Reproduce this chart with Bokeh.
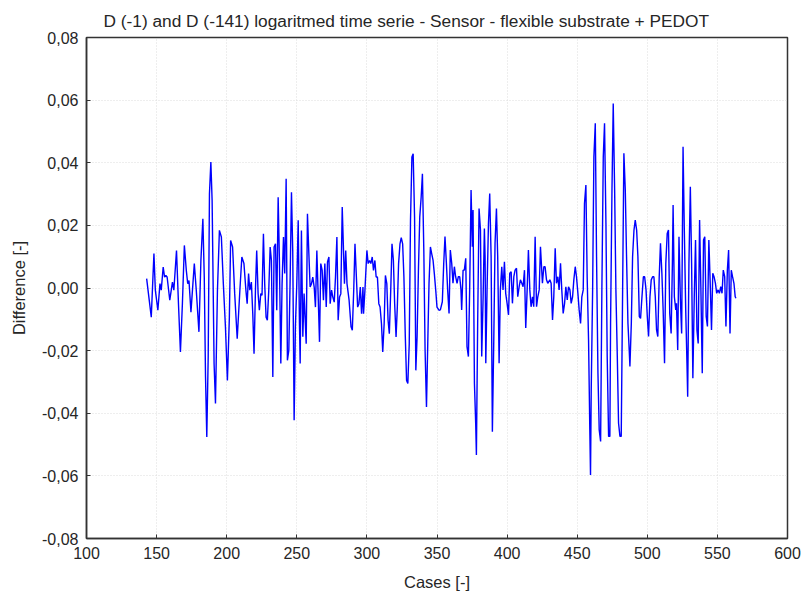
from bokeh.plotting import figure
from bokeh.models import Range1d, FixedTicker, CustomJSTickFormatter, Title
from bokeh.embed import file_html
from bokeh.resources import INLINE

title_text = "D (-1) and D (-141) logaritmed time serie - Sensor - flexible substrate + PEDOT"
x_label = "Cases [-]"
y_label = "Difference [-]"
x_ticks = [100, 150, 200, 250, 300, 350, 400, 450, 500, 550, 600]
y_ticks = [-0.08, -0.06, -0.04, -0.02, 0.0, 0.02, 0.04, 0.06, 0.08]

cases = [
    142.9, 146.2, 148.1, 149.1, 150.9, 152.4, 153.3, 154.7, 155.7, 156.6, 157.5, 159.4, 161.3, 162.3,
    164.2, 165.6, 167.0, 168.4, 169.8, 171.2, 172.2, 173.1, 174.5, 175.9, 176.9, 178.3, 180.2, 181.6,
    183.0, 184.0, 184.9, 185.8, 186.8, 187.7, 188.7, 189.6, 191.0, 192.0, 193.4, 194.8, 196.2, 197.6,
    199.1, 200.5, 201.9, 202.8, 204.2, 205.7, 207.5, 209.4, 210.8, 212.3, 213.7, 214.6, 215.6, 216.5,
    217.6, 218.6, 219.5, 220.5, 221.4, 222.4, 223.3, 224.3, 225.2, 226.2, 227.1, 228.1, 229.0, 230.0,
    231.0, 231.9, 232.9, 233.8, 234.8, 235.7, 236.7, 237.6, 238.6, 239.5, 240.5, 241.4, 242.4, 243.3,
    244.3, 245.2, 246.2, 247.1, 248.1, 249.0, 250.0, 251.0, 251.9, 252.4, 253.3, 254.3, 255.2, 256.7,
    257.6, 258.6, 259.5, 260.5, 261.4, 262.4, 263.3, 264.3, 265.2, 266.2, 267.1, 268.1, 269.0, 270.0,
    271.0, 271.9, 272.9, 273.8, 274.8, 275.7, 276.7, 277.6, 278.6, 279.5, 280.5, 281.4, 282.4,
    284.0, 284.9, 285.8, 287.3, 288.7, 289.6, 290.6, 291.5, 292.5, 293.4, 294.3, 295.3, 296.2, 297.2,
    297.6, 298.6, 300.0, 300.9, 301.9, 302.8, 303.8, 304.7, 305.7, 306.6, 307.5, 308.5, 309.4, 310.4,
    311.3, 312.3, 313.2, 314.2, 315.1, 316.0, 317.0, 317.9, 318.9, 319.8, 320.8, 321.7, 322.6, 323.6,
    324.5, 325.5, 326.4, 327.4, 328.3, 329.2, 330.2, 331.1, 332.1, 333.0, 334.0, 334.9, 335.8, 336.8,
    337.7, 338.7, 339.6, 340.6, 341.5, 342.5, 343.4, 344.3, 345.3, 346.2, 347.2, 348.1, 349.1, 350.0,
    351.4,
    352.4, 353.8, 354.8, 355.7, 356.7, 357.6, 358.6, 359.5, 360.5, 361.4, 362.4, 363.3, 364.3, 365.2,
    366.2, 367.1, 367.6, 368.6, 369.5, 370.5, 371.4, 372.4, 373.3, 374.3, 375.2, 375.7, 376.7, 377.6,
    378.1, 379.0, 380.0, 381.0, 381.9, 382.9, 383.8, 384.3, 384.8, 385.7, 386.7, 387.6, 388.6, 389.5,
    390.5, 391.4, 392.4, 393.3, 394.3, 395.2, 396.2, 397.1, 398.1, 399.0, 400.0, 401.0, 401.9, 402.9,
    403.8, 404.8, 405.7, 406.7, 407.6, 408.6, 409.5, 410.5, 411.4, 412.4, 413.3, 414.3, 415.2, 416.2,
    417.1, 418.1, 419.0, 420.0, 421.0, 421.9, 422.9, 423.8,
    425.2, 426.2, 427.1, 428.1, 429.0, 430.5, 431.4, 432.4, 433.3, 434.3, 435.2, 436.2, 437.1, 438.1,
    439.0, 440.0, 441.0, 441.9, 442.9, 443.8, 444.8, 445.7, 446.7, 447.6, 448.6, 449.5, 450.5, 451.4,
    452.4, 453.3, 454.3, 455.2, 456.2, 457.1, 458.1, 459.0, 459.5, 460.0, 461.0, 461.9, 462.9, 463.8,
    464.8, 465.7, 466.7, 467.6, 468.6, 469.5, 470.5, 471.4, 472.4, 473.3, 473.8, 474.8, 475.7, 476.7,
    477.6, 478.6, 479.5, 480.5, 481.4, 482.4, 483.3, 484.3, 485.2, 486.2, 487.1, 487.6, 488.6, 489.5,
    490.5, 491.4, 492.4, 493.3, 494.3, 495.2,
    496.2, 497.2, 498.1, 499.1, 500.0, 500.9, 501.9, 502.8, 503.8, 504.7, 505.7, 506.6, 507.5, 508.5,
    509.4, 510.4, 511.3, 512.3, 513.2, 514.2, 515.1, 516.0, 517.0, 517.9, 518.4, 519.3, 520.3, 520.8,
    521.7, 522.6, 523.6, 524.5, 525.5, 526.4, 527.4, 528.3, 528.8, 529.7, 530.7, 531.6, 532.5, 533.5,
    534.4, 535.4, 536.3, 537.3, 538.2, 539.2, 540.1, 541.0, 542.0, 542.9, 543.9, 544.8, 545.8, 546.7,
    547.6, 548.6, 549.5, 550.5, 551.4, 552.4, 553.3, 554.2, 555.2, 556.1, 557.1, 558.0, 559.0, 559.9,
    560.8, 561.8, 562.7, 563.2,
]

difference = [
    0.0030, -0.0093, 0.0110, -0.0007, -0.0071, 0.0014, -0.0007, 0.0067, 0.0035, 0.0040, 0.0035, -0.0039, 0.0019, -0.0007,
    0.0120, -0.0050, -0.0204, -0.0050, 0.0136, 0.0056, 0.0014, 0.0024, -0.0077, 0.0014, 0.0078, -0.0007, -0.0140, 0.0088,
    0.0221, 0.0035, -0.0284, -0.0476, -0.0220, 0.0301, 0.0402, 0.0280, -0.0241, -0.0369, -0.0007, 0.0184, 0.0163, 0.0014,
    -0.0124, -0.0295, -0.0093, 0.0152, 0.0131, -0.0018, -0.0162, -0.0007, 0.0099, 0.0078, -0.0007, -0.0050, 0.0046, -0.0007,
    0.0019, -0.0082, -0.0210, -0.0007, 0.0120, -0.0018, -0.0071, -0.0018, -0.0023, 0.0173, 0.0014, -0.0093, -0.0103, -0.0007,
    0.0131, 0.0088, -0.0284, 0.0131, 0.0141, -0.0071, 0.0290, 0.0088, -0.0241, 0.0014, 0.0163, 0.0046, 0.0349, -0.0231,
    -0.0199, 0.0014, 0.0306, 0.0120, -0.0422, -0.0124, 0.0014, 0.0216, -0.0114, -0.0241, 0.0184, -0.0156, -0.0018, -0.0178,
    0.0237, 0.0110, 0.0003, 0.0014, 0.0035, 0.0003, -0.0061, 0.0120, -0.0018, -0.0172, 0.0078, 0.0056, -0.0039, 0.0078,
    -0.0061, 0.0083, 0.0099, -0.0050, -0.0007, -0.0029, -0.0045, 0.0035, 0.0163, -0.0103, -0.0029, -0.0018, 0.0259,
    0.0014, 0.0120, 0.0014, -0.0039, -0.0124, -0.0135, -0.0007, 0.0141, 0.0035, -0.0061, -0.0050, 0.0003, -0.0082, 0.0003,
    -0.0082, -0.0007, 0.0120, 0.0078, 0.0088, 0.0078, 0.0099, 0.0056, 0.0088, 0.0035, 0.0035, -0.0050, -0.0061, -0.0114,
    -0.0204, -0.0114, 0.0040, 0.0014, -0.0103, -0.0146, -0.0007, 0.0141, 0.0088, -0.0050, -0.0156, -0.0061, 0.0078, 0.0141,
    0.0161, 0.0141, 0.0035, -0.0156, -0.0295, -0.0305, -0.0178, 0.0216, 0.0418, 0.0429, 0.0227, -0.0263, -0.0156, 0.0067,
    0.0227, 0.0290, 0.0365, 0.0120, -0.0199, -0.0380, -0.0178, 0.0014, 0.0131, 0.0110, 0.0088, 0.0046, -0.0007, -0.0061,
    -0.0071,
    -0.0070, -0.0044, 0.0079, 0.0164, 0.0079, -0.0006, -0.0081, 0.0121, 0.0079, 0.0015, 0.0068, 0.0036, 0.0015, 0.0036,
    0.0036, -0.0006, -0.0070, 0.0057, 0.0057, 0.0095, -0.0187, -0.0219, -0.0006, 0.0313, 0.0132, 0.0249, -0.0304, -0.0432,
    -0.0533, -0.0113, 0.0254, 0.0185, -0.0219, -0.0028, 0.0190, 0.0100, -0.0240, -0.0006, 0.0206, 0.0302, 0.0100, -0.0459,
    -0.0166, 0.0143, 0.0254, 0.0100, -0.0240, -0.0006, 0.0068, -0.0006, 0.0084, -0.0017, -0.0049, -0.0086, 0.0047, 0.0052,
    -0.0049, 0.0036, 0.0057, 0.0063, -0.0028, 0.0004, 0.0026, 0.0015, 0.0004, 0.0057, -0.0128, -0.0006, 0.0121, -0.0006,
    -0.0060, -0.0028, -0.0060, 0.0164, -0.0060, -0.0028, -0.0006, 0.0132,
    0.0015, 0.0068, 0.0068, 0.0026, 0.0015, 0.0026, 0.0015, -0.0102, -0.0028, 0.0127, 0.0015, 0.0036, -0.0006, 0.0079,
    -0.0006, -0.0081, -0.0049, 0.0004, -0.0038, 0.0004, -0.0006, -0.0049, -0.0028, 0.0026, 0.0068, 0.0036, -0.0017, -0.0070,
    -0.0113, -0.0028, -0.0006, 0.0270, 0.0329, 0.0036, -0.0166, -0.0453, -0.0597, -0.0326, -0.0006, 0.0419, 0.0526, 0.0100,
    -0.0272, -0.0453, -0.0490, -0.0006, 0.0419, 0.0526, 0.0206, -0.0219, -0.0474, -0.0474, -0.0113, 0.0313, 0.0589, 0.0313,
    -0.0006, -0.0219, -0.0432, -0.0474, -0.0474, -0.0006, 0.0430, 0.0313, 0.0100, -0.0113, -0.0198, -0.0251, -0.0113, 0.0100,
    0.0185, 0.0217, 0.0185, 0.0100, -0.0091, -0.0097,
    -0.0028, 0.0036, 0.0036, -0.0006, -0.0091, -0.0155, -0.0028, 0.0026, 0.0036, 0.0036, -0.0028, -0.0134, -0.0155, 0.0036,
    0.0143, 0.0047, -0.0070, -0.0240, 0.0079, 0.0174, 0.0185, -0.0081, -0.0145, 0.0079, 0.0265, -0.0028, -0.0070, -0.0049,
    -0.0198, 0.0164, -0.0038, -0.0145, 0.0451, 0.0185, -0.0070, -0.0240, -0.0347, 0.0079, 0.0323, 0.0079, -0.0288, -0.0028,
    0.0153, -0.0134, -0.0177, 0.0217, 0.0004, -0.0272, 0.0153, 0.0164, -0.0091, -0.0123, 0.0153, 0.0026, -0.0134, 0.0047,
    0.0036, 0.0015, -0.0017, -0.0006, -0.0017, 0.0004, -0.0017, 0.0057, 0.0036, -0.0123, 0.0057, 0.0121, -0.0145, 0.0057,
    0.0036, 0.0015, -0.0028, -0.0033,
]

FONT = "Liberation Sans"
TXT = "#262626"

p = figure(
    width=803, height=593,
    x_range=Range1d(100, 600), y_range=Range1d(-0.08, 0.08),
    output_backend="svg", toolbar_location=None,
    min_border_left=86, min_border_right=16, min_border_top=37, min_border_bottom=55,
)
p.title = Title(text=title_text, align="left", offset=17,
                text_font=FONT, text_font_size="17.3px", text_font_style="normal",
                text_color=TXT, standoff=14)

p.line(cases, difference, line_color="#0000ff", line_width=1.4)

p.xaxis.ticker = FixedTicker(ticks=x_ticks)
p.yaxis.ticker = FixedTicker(ticks=y_ticks)
p.yaxis.formatter = CustomJSTickFormatter(code="return tick.toFixed(2).replace('.', ',');")
p.xaxis.formatter = CustomJSTickFormatter(code="return tick.toFixed(0);")

for ax in (p.xaxis, p.yaxis):
    ax.major_tick_in = 4
    ax.major_tick_out = 0
    ax.minor_tick_line_color = None
    ax.axis_line_color = "#333333"
    ax.axis_line_width = 1.5
    ax.major_tick_line_color = "#333333"
    ax.major_label_text_font = FONT
    ax.major_label_text_font_size = "16px"
    ax.major_label_text_color = TXT
    ax.major_label_standoff = 8
    ax.axis_label_text_font = FONT
    ax.axis_label_text_font_size = "16.5px"
    ax.axis_label_text_font_style = "normal"
    ax.axis_label_text_color = TXT
    ax.axis_label_standoff = 11

p.xaxis.axis_label = x_label
p.yaxis.axis_label = y_label

p.outline_line_color = "#333333"
p.outline_line_width = 1.5
p.xgrid.grid_line_color = "#dcdcdc"
p.ygrid.grid_line_color = "#dcdcdc"
p.xgrid.grid_line_dash = "1 2"
p.ygrid.grid_line_dash = "1 2"
p.background_fill_color = "white"
p.border_fill_color = "white"

open("out.html", "w").write(file_html(p, INLINE))
